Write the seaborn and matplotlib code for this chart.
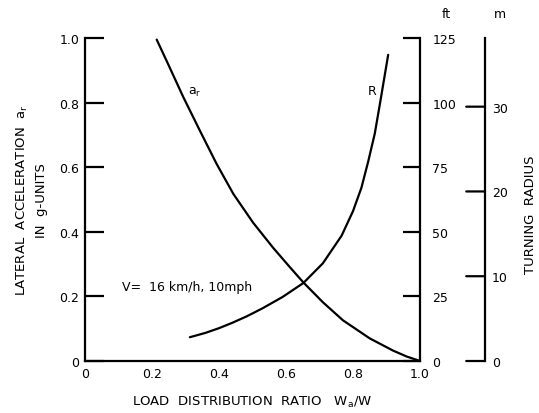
import numpy as np
import pandas as pd
import matplotlib
matplotlib.use("Agg")
import matplotlib.pyplot as plt
import seaborn as sns

# ---- data ----
load_ratio_a = [0.214, 0.25, 0.293, 0.343, 0.393, 0.443, 0.502, 0.562, 0.612, 0.652,
                0.71, 0.77, 0.85, 0.92, 0.96, 1.00]
lateral_acc = [0.995, 0.915, 0.818, 0.713, 0.610, 0.517, 0.428, 0.350, 0.290, 0.243,
               0.182, 0.126, 0.070, 0.032, 0.014, 0.0]

load_ratio_r = [0.313, 0.36, 0.40, 0.44, 0.483, 0.53, 0.59, 0.652, 0.71, 0.766,
                0.80, 0.825, 0.845, 0.865, 0.881, 0.905]
radius_ft = [9.2, 10.9, 12.7, 14.8, 17.3, 20.4, 24.8, 30.2, 37.8, 48.5,
             58.0, 67.0, 77.0, 88.0, 100.0, 118.5]

x_ticks = [0, 0.2, 0.4, 0.6, 0.8, 1.0]
x_ticklabels = ["0", "0.2", "0.4", "0.6", "0.8", "1.0"]
y_ticks = [0, 0.2, 0.4, 0.6, 0.8, 1.0]
y_ticklabels = ["0", "0.2", "0.4", "0.6", "0.8", "1.0"]
ft_ticks = [0, 25, 50, 75, 100, 125]
m_ticks = [0, 10, 20, 30]
FT_TO_M = 0.3048

sns.set_theme(style="white")
plt.rcParams["font.family"] = ["DejaVu Sans"]
plt.rcParams["axes.linewidth"] = 1.6
plt.rcParams["lines.solid_joinstyle"] = "round"

INK = "black"
df_a = pd.DataFrame({"ratio": load_ratio_a, "acc": lateral_acc})
df_r = pd.DataFrame({"ratio": load_ratio_r, "R": radius_ft})

fig = plt.figure(figsize=(5.39, 4.14), dpi=100)
ax = fig.add_axes([85 / 539, 1 - 362 / 414, 335 / 539, 323 / 414])

sns.lineplot(data=df_a, x="ratio", y="acc", ax=ax, color=INK, linewidth=1.6)
ax.set_xlim(0, 1.0)
ax.set_ylim(0, 1.0)
ax.set_xticks(x_ticks, x_ticklabels)
ax.set_yticks(y_ticks, y_ticklabels)
ax.tick_params(axis="y", direction="in", length=14, width=1.6, pad=4, labelsize=9, colors=INK)
ax.tick_params(axis="x", direction="in", length=11, width=1.6, pad=4, labelsize=9, colors=INK)
for s in ["top", "right"]:
    ax.spines[s].set_visible(False)
for s in ["left", "bottom"]:
    ax.spines[s].set_color(INK)

ax.set_xlabel("LOAD  DISTRIBUTION  RATIO   W$_\\mathregular{a}$/W", fontsize=9.5, labelpad=10, color=INK)
ax.set_ylabel("LATERAL  ACCELERATION  a$_\\mathregular{r}$\nIN  g-UNITS", fontsize=9.5,
              labelpad=8, linespacing=1.55, color=INK)

# feet axis
ax2 = ax.twinx()
sns.lineplot(data=df_r, x="ratio", y="R", ax=ax2, color=INK, linewidth=1.6)
ax2.set_ylim(0, 125)
ax2.set_yticks(ft_ticks)
ax2.tick_params(axis="y", direction="in", length=12, width=1.6, pad=9, labelsize=9, colors=INK)
ax2.set_ylabel("")
for s in ["top", "left", "bottom"]:
    ax2.spines[s].set_visible(False)
ax2.spines["right"].set_color(INK)

# metre axis
ax3 = ax.twinx()
ax3.set_ylim(0, 125 * FT_TO_M)
ax3.set_yticks(m_ticks)
ax3.spines["right"].set_position(("axes", (485 - 85) / 335))
for s in ["top", "left", "bottom"]:
    ax3.spines[s].set_visible(False)
ax3.spines["right"].set_color(INK)
ax3.tick_params(axis="y", direction="out", length=0, pad=5, labelsize=9, colors=INK)
for t in m_ticks:
    ax3.annotate("", xy=(1.194, t), xytext=(1.138, t), xycoords=("axes fraction", "data"),
                 arrowprops=dict(arrowstyle="-", lw=1.6, color=INK, shrinkA=0, shrinkB=0))

# annotations
ax.text(0.328, 0.833, "a$_\\mathregular{r}$", fontsize=9, ha="center", va="center", color=INK)
ax.text(0.857, 0.836, "R", fontsize=9, ha="center", va="center", color=INK)
ax.text(0.11, 0.232, "V=  16 km/h, 10mph", fontsize=9, ha="left", va="center", color=INK)

fig.text(446 / 539, 1 - 15 / 414, "ft", fontsize=9, ha="center", va="center", color=INK)
fig.text(500 / 539, 1 - 15 / 414, "m", fontsize=9, ha="center", va="center", color=INK)
fig.text(531 / 539, 1 - 215 / 414, "TURNING  RADIUS", fontsize=9.5, rotation=90,
         ha="center", va="center", color=INK)

fig.savefig("out.png", dpi=100, facecolor="white")
